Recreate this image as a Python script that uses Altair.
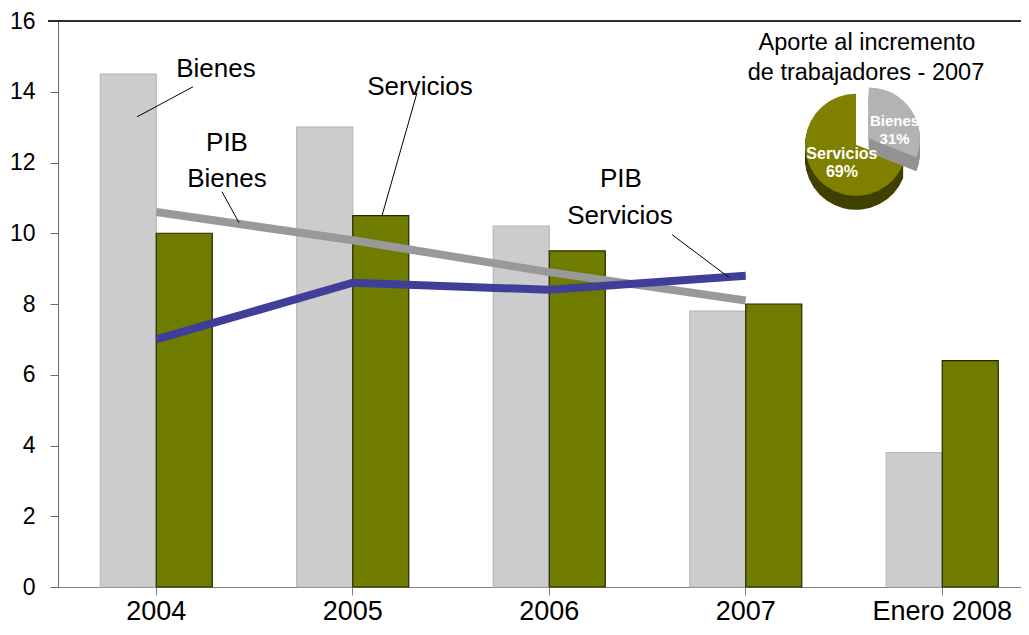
import math
import altair as alt
import pandas as pd

# ---------------- data ----------------
categories = ["2004", "2005", "2006", "2007", "Enero 2008"]
bienes = [14.5, 13.0, 10.2, 7.8, 3.8]
servicios = [10.0, 10.5, 9.5, 8.0, 6.4]

pib_years = ["2004", "2005", "2006", "2007"]
pib_bienes = [10.6, 9.8, 8.9, 8.1]
pib_servicios = [7.0, 8.6, 8.4, 8.8]

pie_labels = ["Bienes", "Servicios"]
pie_shares = [31, 69]

y_ticks = [0, 2, 4, 6, 8, 10, 12, 14, 16]

# ---------------- layout / style ----------------
FONT = "Liberation Sans"
W, H = 963, 566
XR = 982.5
AX = alt.Scale(domain=[0, 5], range=[0, XR])
YS = alt.Scale(domain=[0, 16], nice=False)
THETA = alt.Scale(domain=[0, 100], range=[0, 2 * math.pi])

bar_df = pd.DataFrame(
    [{"cat": c, "serie": "Bienes", "value": v} for c, v in zip(categories, bienes)]
    + [{"cat": c, "serie": "Servicios", "value": v} for c, v in zip(categories, servicios)]
)
pib_df = pd.DataFrame(
    [{"cat": c, "serie": "PIB Bienes", "value": v} for c, v in zip(pib_years, pib_bienes)]
    + [{"cat": c, "serie": "PIB Servicios", "value": v} for c, v in zip(pib_years, pib_servicios)]
)
pie_df = pd.DataFrame({"label": pie_labels, "share": pie_shares})
pie_df["end"] = pie_df["share"].cumsum()
pie_df["start"] = pie_df["end"] - pie_df["share"]
pie_df["mid"] = pie_df["start"] + pie_df["share"] / 2
pie_df["txt"] = pie_df["label"] + "\n" + pie_df["share"].astype(str) + "%"

x_band = alt.X(
    "cat:N",
    sort=categories,
    scale=alt.Scale(domain=categories, range=[0, XR], paddingInner=0.43, paddingOuter=0.215),
    axis=alt.Axis(
        title=None, labelAngle=0, tickSize=8, labelFontSize=27, labelPadding=3,
        domainColor="#808080", tickColor="#808080", labelColor="black", labelFont=FONT,
    ),
)
y_main = alt.Y(
    "value:Q",
    scale=YS,
    axis=alt.Axis(
        title=None, values=y_ticks, tickSize=8, labelFontSize=23, labelPadding=15,
        domainColor="#6b6b6b", tickColor="#6b6b6b", grid=False, labelFont=FONT,
        labelColor="black",
    ),
)

bars = alt.Chart(bar_df).mark_bar(strokeWidth=1.2).encode(
    x=x_band,
    xOffset=alt.XOffset("serie:N", sort=["Bienes", "Servicios"],
                        scale=alt.Scale(paddingInner=0, paddingOuter=0)),
    y=y_main,
    fill=alt.Fill("serie:N", scale=alt.Scale(domain=["Bienes", "Servicios"],
                                             range=["#cccccc", "#6f7c00"]), legend=None),
    stroke=alt.Stroke("serie:N", scale=alt.Scale(domain=["Bienes", "Servicios"],
                                                 range=["#b8b8b8", "#262600"]), legend=None),
)

line_b = alt.Chart(pib_df).transform_filter(alt.datum.serie == "PIB Bienes").mark_line(
    strokeWidth=8, strokeCap="butt", color="#999999").encode(x=alt.X("cat:N", sort=categories), y="value:Q")
line_s = alt.Chart(pib_df).transform_filter(alt.datum.serie == "PIB Servicios").mark_line(
    strokeWidth=8, strokeCap="butt", color="#3f3f99").encode(x=alt.X("cat:N", sort=categories), y="value:Q")

main = alt.layer(bars, line_b, line_s)

# ---------------- annotations ----------------
ann = pd.DataFrame([
    {"t": "Bienes", "u": 0.804, "v": 14.64},
    {"t": "PIB", "u": 0.860, "v": 12.56},
    {"t": "Bienes", "u": 0.860, "v": 11.54},
    {"t": "Servicios", "u": 1.842, "v": 14.14},
    {"t": "PIB", "u": 2.865, "v": 11.54},
    {"t": "Servicios", "u": 2.860, "v": 10.50},
])
pie_title = pd.DataFrame([
    {"t": "Aporte al incremento", "u": 4.117, "v": 15.38},
    {"t": "de trabajadores - 2007", "u": 4.112, "v": 14.53},
])
leaders = pd.DataFrame([
    {"u": 0.402, "v": 13.29, "u2": 0.687, "v2": 14.14},
    {"u": 0.835, "v": 11.17, "u2": 0.921, "v2": 10.30},
    {"u": 1.827, "v": 13.97, "u2": 1.649, "v2": 10.50},
    {"u": 3.125, "v": 9.96, "u2": 3.415, "v2": 8.75},
])

ax_u = alt.X("u:Q", scale=AX, axis=None)
ay_v = alt.Y("v:Q", scale=YS, title=None)

ann_text = alt.Chart(ann).mark_text(font=FONT, fontSize=26, color="black", baseline="middle",
                                    align="center").encode(x=ax_u, y=ay_v, text="t:N")
title_text = alt.Chart(pie_title).mark_text(font=FONT, fontSize=23.5, color="black", baseline="middle",
                                            align="center").encode(x=ax_u, y=ay_v, text="t:N")
leader_rules = alt.Chart(leaders).mark_rule(color="black", strokeWidth=1).encode(
    x=ax_u, x2="u2:Q", y=ay_v, y2="v2:Q")

top_line = alt.Chart(pie_df).mark_rule(color="#222222", strokeWidth=1.5).encode(
    y=alt.YDatum(16, type="quantitative", scale=YS, title=None),
    x=alt.value(-10), x2=alt.value(W + 30))

# ---------------- pie ----------------
R = 51
DEPTH = 14
pie_pos = {"Servicios": (4.061, 12.50), "Bienes": (4.127, 12.68)}
top_col = {"Servicios": "#808000", "Bienes": "#b3b3b3"}
side_col = {"Servicios": "#404000", "Bienes": "#939393"}

pie_layers = []
for name in ["Servicios", "Bienes"]:
    cx, cy = pie_pos[name]
    base = alt.Chart(pie_df).transform_filter(alt.datum.label == name)
    enc = dict(
        theta=alt.Theta("start:Q", scale=THETA),
        theta2="end:Q",
        x=alt.XDatum(cx, type="quantitative", scale=AX, axis=None),
        y=alt.YDatum(cy, type="quantitative", scale=YS, title=None),
    )
    for k in range(DEPTH, 0, -1):
        pie_layers.append(base.mark_arc(radius=R, yOffset=k, color=side_col[name]).encode(**enc))
    pie_layers.append(base.mark_arc(radius=R, color=top_col[name]).encode(**enc))

pie_text_layers = []
for name, rad, fs in [("Servicios", 17, 16), ("Bienes", 31, 15)]:
    cx, cy = pie_pos[name]
    pie_text_layers.append(
        alt.Chart(pie_df).transform_filter(alt.datum.label == name).mark_text(
            font=FONT, fontSize=fs, fontWeight="bold", color="white", radius=rad,
            lineBreak="\n", baseline="middle", align="center", lineHeight=18,
        ).encode(
            theta=alt.Theta("mid:Q", scale=THETA),
            x=alt.XDatum(cx, type="quantitative", scale=AX, axis=None),
            y=alt.YDatum(cy, type="quantitative", scale=YS, title=None),
            text="txt:N",
        )
    )

overlay = alt.layer(top_line, leader_rules, ann_text, title_text, *pie_layers, *pie_text_layers)

chart = alt.layer(main, overlay).resolve_scale(
    x="independent", theta="independent"
).properties(
    width=W, height=H,
    autosize=alt.AutoSizeParams(type="none"),
    padding={"left": 50, "top": 13, "right": 0, "bottom": 40},
).configure_view(stroke=None).configure(background="white")

chart.save("out.html", embed_options={"renderer": "svg", "actions": False})
